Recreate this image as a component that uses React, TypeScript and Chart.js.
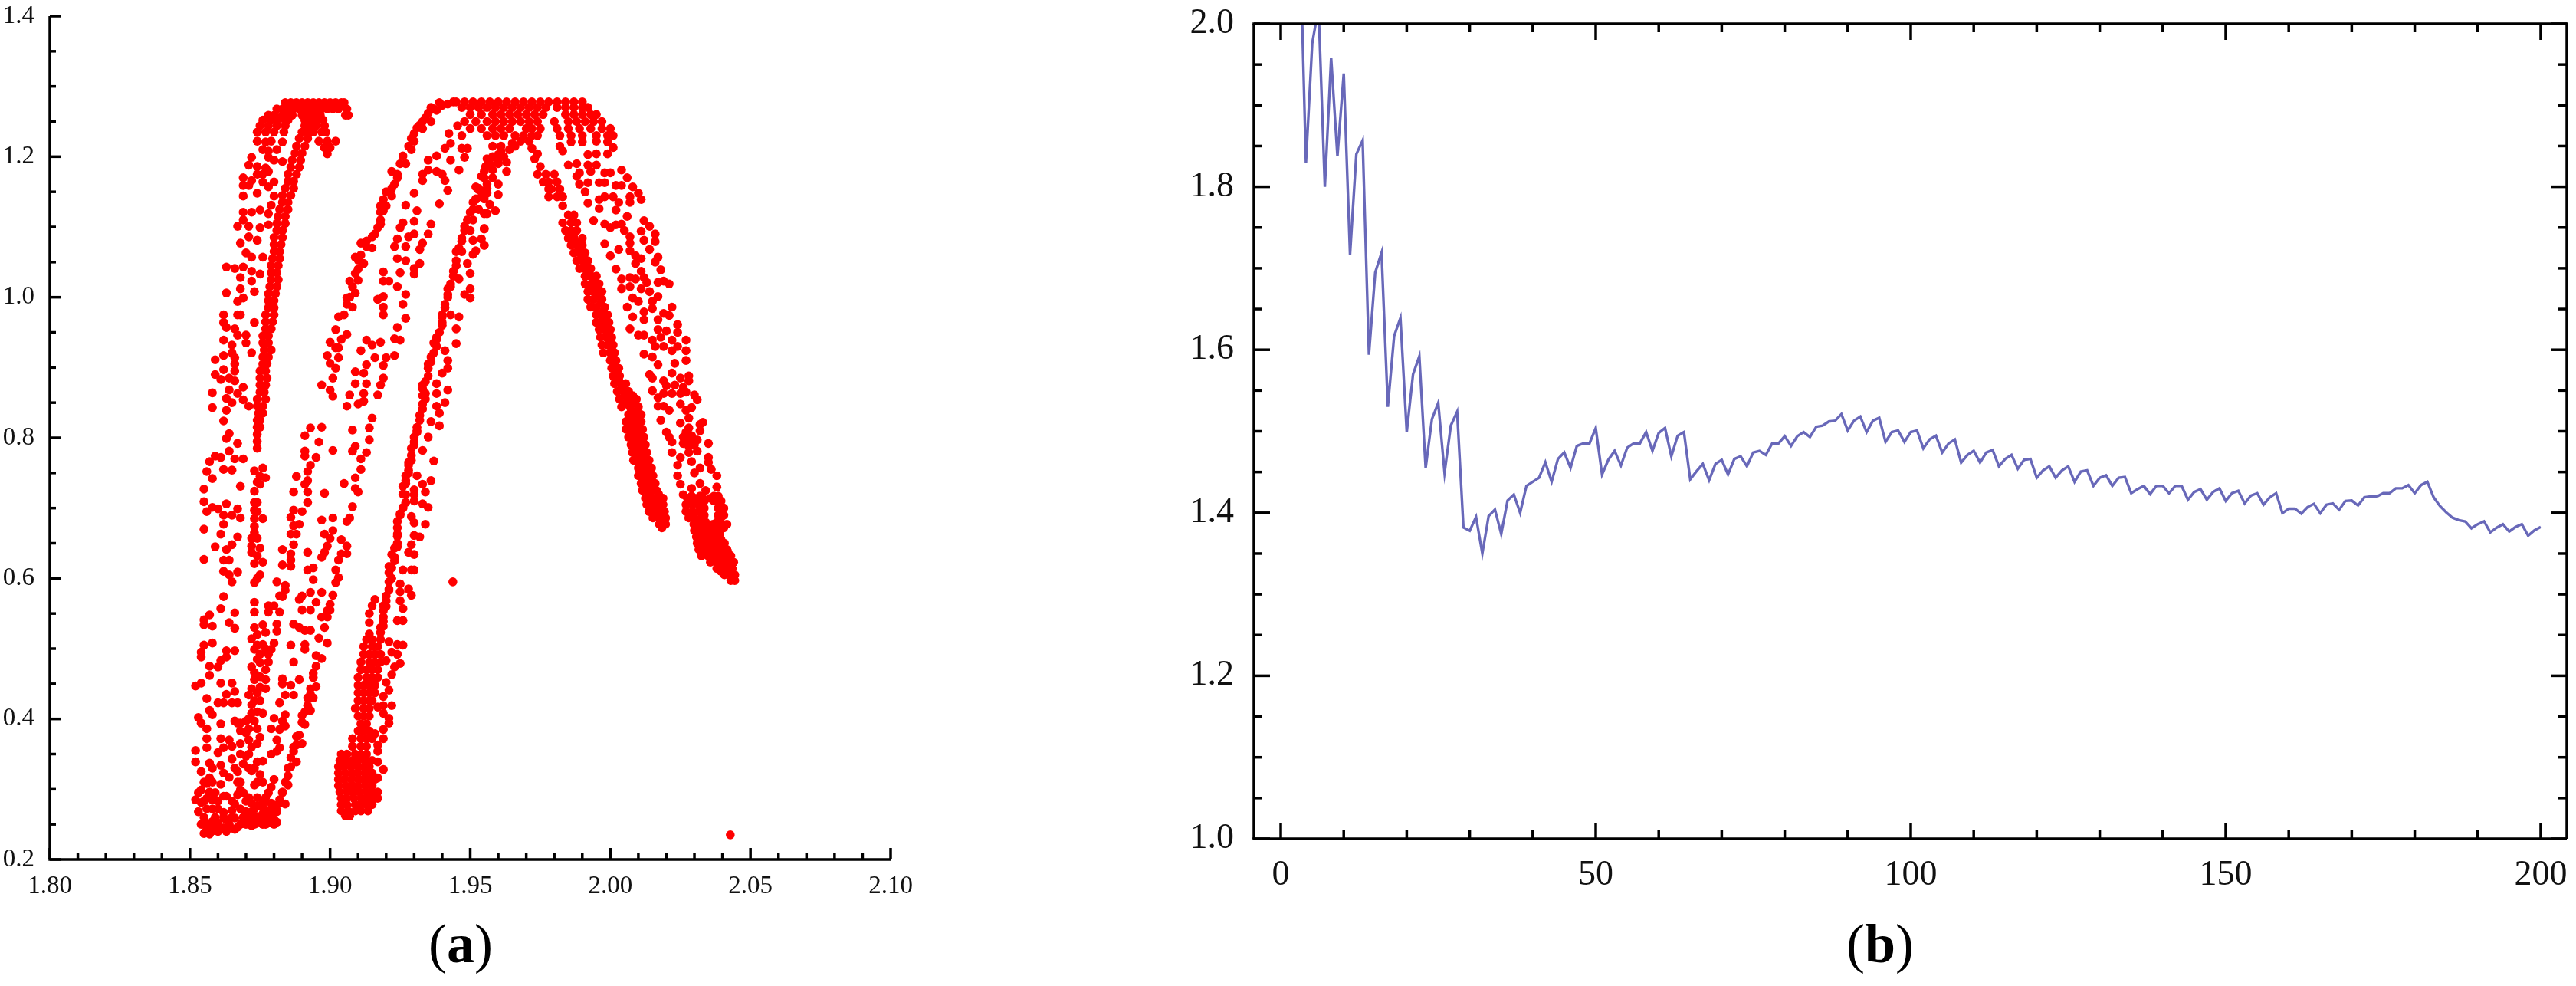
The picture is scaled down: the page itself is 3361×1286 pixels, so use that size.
import React, { useEffect, useRef } from "react";
import { Chart, registerables } from "chart.js";

Chart.register(...registerables);

const SERIF = '"Liberation Serif", serif';

// ---------- Panel (a): scatter values, as [x, y] ----------
const leftOuterScatter = [
[1.874,1.222],[1.877,1.221],[1.879,1.222],[1.883,1.221],[1.876,1.21],[1.878,1.208],[1.881,1.21],[1.878,1.199],[1.88,1.195],[1.883,1.193],[1.872,1.199],[1.871,1.188],[1.874,1.186],[1.877,1.184],
[1.869,1.17],[1.869,1.159],[1.869,1.144],[1.872,1.166],[1.874,1.175],[1.876,1.175],[1.878,1.179],[1.88,1.164],[1.878,1.157],[1.874,1.148],[1.871,1.159],[1.876,1.164],
[1.869,1.121],[1.872,1.121],[1.875,1.124],[1.878,1.119],[1.879,1.131],[1.88,1.144],[1.867,1.101],[1.869,1.11],[1.871,1.101],[1.875,1.099],[1.878,1.103],[1.871,1.086],[1.874,1.081],[1.868,1.077],
[1.87,1.063],[1.872,1.057],[1.876,1.057],[1.863,1.043],[1.866,1.041],[1.869,1.043],[1.872,1.037],[1.875,1.033],[1.868,1.028],[1.872,1.023],[1.868,1.012],[1.863,1.006],[1.873,1.008],[1.869,.999],[1.867,.994],[1.867,.975],[1.868,.975],[1.862,.975],[1.862,.964],[1.863,.957],[1.873,.964],[1.866,.955],[1.867,.946],[1.87,.946],[1.862,.939],[1.87,.935],[1.865,.932],[1.865,.921],[1.862,.917],[1.859,.911],[1.872,.921],[1.866,.914],[1.866,.905],[1.862,.897],[1.859,.89],[1.866,.895],[1.861,.883],[1.864,.885],[1.866,.881],[1.869,.872],[1.864,.868],[1.867,.863],[1.858,.864],[1.863,.856],[1.865,.85],[1.869,.854],[1.871,.845],[1.858,.843],[1.863,.839],[1.862,.824],[1.864,.806],[1.863,.799],[1.867,.792],[1.864,.781],[1.859,.774],[1.861,.772],[1.866,.77],[1.869,.77],[1.857,.766],[1.856,.752],[1.862,.755],[1.865,.754],[1.858,.742],[1.868,.731],[1.855,.727],
[1.873,.753],[1.876,.757],[1.875,.745],[1.877,.743],[1.874,.737],[1.873,.724],[1.875,.734],
];

const leftStemRows = [
[1.226,1.889,1.892],[1.215,1.888,1.891],[1.205,1.8875,1.89],[1.195,1.8865,1.8895],[1.185,1.886,1.889],[1.175,1.885,1.888],[1.165,1.885,1.887],[1.155,1.884,1.887],[1.145,1.883,1.886],[1.135,1.883,1.885],[1.125,1.882,1.885],[1.115,1.8815,1.884],[1.105,1.881,1.884],[1.095,1.881,1.883],[1.085,1.88,1.883],[1.075,1.88,1.8825],[1.065,1.88,1.882],[1.055,1.8795,1.882],[1.045,1.879,1.8815],[1.035,1.879,1.881],[1.025,1.879,1.8815],[1.015,1.8785,1.881],[1.005,1.878,1.8805],[.995,1.878,1.88],[.985,1.878,1.88],[.975,1.877,1.88],[.965,1.877,1.8795],[.955,1.877,1.879],[.945,1.876,1.878],[.935,1.876,1.878],[.925,1.8765,1.879],[.915,1.876,1.878],[.905,1.876,1.8775],[.895,1.875,1.877],[.885,1.875,1.8775],[.875,1.875,1.877],[.865,1.875,1.8765],[.855,1.874,1.877],[.845,1.874,1.876],[.835,1.8745,1.876],[.825,1.874,1.875],[.815,1.874,1.875],[.805,1.874],[.795,1.874],[.785,1.874],
];

const leftCapRows = [
[1.277,1.884,1.886,1.888,1.89,1.892,1.894,1.896,1.898,1.9,1.902,1.904,1.905],
[1.268,1.881,1.883,1.885,1.887,1.889,1.891,1.893,1.895,1.897,1.899,1.901,1.903,1.906],
[1.259,1.878,1.88,1.883,1.885,1.8865,1.89,1.892,1.894,1.8965,1.9065,1.9055],
[1.252,1.876,1.879,1.881,1.884,1.885,1.891,1.893,1.895,1.8975],
[1.244,1.875,1.878,1.881,1.884,1.891,1.893,1.895,1.898],
[1.235,1.874,1.877,1.88,1.8835,1.89,1.892,1.894,1.897,1.8985],
[1.222,1.896,1.899,1.902],[1.213,1.898,1.9],[1.204,1.899],
];

const middleArc = [
[1.928,1.215],[1.93,1.222],[1.926,1.201],[1.925,1.19],[1.922,1.179],[1.924,1.175],[1.923,1.161],[1.92,1.15],[1.922,1.144],[1.919,1.139],[1.918,1.13],[1.918,1.121],[1.919,1.123],[1.917,1.099],[1.918,1.104],[1.915,1.086],[1.911,1.077],[1.915,1.07],[1.913,1.072],[1.909,1.057],[1.912,1.048],[1.91,1.053],[1.909,1.034],[1.91,1.024],[1.907,1.023],[1.909,1.006],[1.906,.999],[1.908,.986],[1.906,.99],[1.903,.972],[1.902,.954],[1.906,.947],[1.9,.936],[1.903,.928],[1.902,.928],[1.899,.917],[1.903,.914],[1.9,.906],[1.902,.899],[1.901,.885],[1.897,.875],[1.9,.868],[1.901,.859],
[1.944,1.278],[1.94,1.273],[1.937,1.268],[1.934,1.255],[1.931,1.241],[1.929,1.226],[1.942,1.275],[1.938,1.266],[1.935,1.262],[1.933,1.25],[1.932,1.245],[1.93,1.233],[1.936,1.27],[1.939,1.277],
];

const middleArcFillRows = [
[1.25,1.936],[1.24,1.933],[1.21,1.929],[1.19,1.927],[1.17,1.924],[1.155,1.922],[1.13,1.92],[1.11,1.918],[1.09,1.916],[1.08,1.913],[1.06,1.911],[1.04,1.91],[1.015,1.908],[1.0,1.907],[.975,1.905],[.94,1.904],
[.36,1.887],[.345,1.886],[.33,1.885],[.31,1.884],[.295,1.883],[.28,1.882],[.27,1.881],[.375,1.888],[.395,1.89],[.41,1.891],[.435,1.893],[.465,1.894],[.49,1.895],[.515,1.896],[.545,1.897],
];

const innerScatterUpper = [
[1.941,1.212],[1.947,1.212],[1.949,1.212],[1.938,1.201],[1.943,1.195],[1.948,1.199],[1.935,1.195],[1.946,1.181],[1.933,1.175],[1.938,1.179],[1.935,1.181],[1.94,1.175],[1.941,1.166],[1.933,1.166],[1.942,1.152],[1.93,1.148],[1.927,1.131],[1.939,1.133],[1.931,1.123],[1.926,1.106],[1.925,1.099],[1.93,1.108],[1.936,1.104],[1.928,1.086],[1.93,1.09],[1.935,1.09],[1.924,1.083],[1.923,1.072],[1.927,1.072],[1.933,1.077],[1.932,1.068],[1.924,1.055],[1.927,1.052],[1.925,1.035],[1.932,1.048],[1.93,1.033],[1.93,1.041],[1.919,1.036],[1.919,1.023],[1.921,1.023],[1.924,1.015],[1.917,.997],[1.919,1.001],[1.919,.986],[1.927,1.004],[1.926,.99],[1.919,.975],[1.927,.97],[1.924,.957],[1.923,.941],[1.925,.939],[1.913,.939],[1.918,.936],[1.915,.932],[1.911,.924],[1.916,.914],[1.92,.914],[1.923,.917],[1.913,.904],[1.919,.903],[1.919,.885],[1.918,.875],[1.909,.894],[1.912,.892],[1.909,.877],[1.913,.877],[1.912,.863],[1.917,.861],[1.907,.861],[1.91,.848],[1.906,.845],[1.912,.852],[1.915,.828],[1.914,.814],[1.908,.811],[1.914,.797],[1.909,.788],[1.908,.781],[1.913,.779],[1.911,.77],[1.911,.755],[1.909,.743],[1.905,.735],[1.909,.728],[1.91,.723],
[1.893,.814],[1.897,.815],[1.891,.803],[1.896,.794],[1.891,.781],[1.901,.782],[1.891,.774],[1.895,.772],[1.893,.761],[1.892,.752],[1.888,.745],[1.892,.739],[1.891,.734],[1.887,.723],[1.892,.723],[1.898,.721],
[1.9424,1.233],[1.9455,1.244],[1.943,1.219],
];

const rightArcUpper = [
[1.955,1.179],[1.952,1.157],[1.954,1.143],[1.956,1.148],[1.95,1.121],[1.955,1.119],[1.951,1.135],[1.948,1.101],[1.947,1.084],[1.946,1.07],[1.955,1.097],[1.951,1.081],[1.955,1.074],[1.951,1.061],[1.945,1.052],[1.949,1.048],[1.944,1.037],[1.95,1.034],[1.946,1.026],[1.943,1.019],[1.942,1.004],[1.95,1.012],[1.948,1.004],[1.95,.999],[1.941,.99],[1.94,.975],[1.943,.975],[1.946,.972],[1.94,.964],[1.945,.955],[1.939,.95],[1.937,.935],[1.945,.934],[1.937,.921],[1.941,.924],[1.936,.908],[1.942,.91],[1.942,.899],[1.935,.888],[1.94,.892],[1.933,.875],[1.938,.877],[1.942,.868],[1.934,.863],[1.933,.848],[1.938,.863],[1.941,.85],[1.938,.845],[1.939,.835],[1.932,.832],[1.931,.815],[1.936,.823],[1.939,.817],[1.93,.801],[1.935,.801],[1.929,.785],[1.933,.782],[1.929,.768],[1.937,.767],[1.928,.754],[1.927,.739],[1.931,.746],[1.936,.739],[1.926,.731],[1.93,.726],[1.933,.734],[1.927,.719],[1.934,.723],[1.93,.719],
[1.942,1.012],[1.94,.972],[1.938,.943],[1.935,.899],[1.934,.855],[1.933,.841],[1.931,.808],[1.93,.794],[1.929,.775],[1.928,.761],[1.927,.746],
[1.971,1.222],[1.968,1.222],[1.965,1.219],[1.964,1.21],[1.961,1.208],[1.958,1.215],[1.956,1.197],[1.96,1.203],[1.963,1.192],[1.958,1.181],[1.963,1.179],[1.954,1.172],[1.956,1.161],[1.96,1.161],[1.96,1.146],[1.953,1.153],[1.955,1.148],[1.952,1.139],[1.957,1.132],[1.956,1.119],[1.959,1.123],[1.955,1.098],[1.954,1.083],[1.955,1.074],[1.952,1.066],[1.974,1.204],[1.9555,1.186],[1.96,1.192],
];

const rightArcFillRows = [
[1.215,1.961,1.966],[1.2,1.958,1.962],[1.19,1.957,1.96],[1.17,1.955,1.958],[1.155,1.953,1.956],[1.14,1.952,1.955],[1.125,1.951,1.953],[1.11,1.949,1.951],[1.095,1.948,1.95],[1.08,1.947],[1.065,1.945,1.947],[1.045,1.945],[1.03,1.944],[1.015,1.943],[1.0,1.942],[.985,1.941],[.96,1.94],[.94,1.938],[.93,1.938],[.915,1.936],[.905,1.935],[.88,1.934],[.87,1.933],[.86,1.933],[.825,1.932],[.81,1.931],[.79,1.93],[.765,1.928],[.75,1.928],[.735,1.927],[.72,1.926],
[.7,1.926],[.69,1.925],[.66,1.924],[.65,1.924],[.63,1.923],[.615,1.922],[.595,1.921],[.585,1.921],[.56,1.92],[.545,1.919],[.53,1.918],
];

const lowerLeftScatter = [
[1.855,.709],[1.856,.695],[1.858,.701],[1.86,.699],[1.863,.706],[1.862,.69],[1.862,.677],[1.865,.69],[1.867,.699],[1.868,.686],[1.855,.67],[1.861,.663],[1.867,.659],[1.865,.648],[1.863,.641],[1.859,.645],[1.855,.627],[1.862,.626],[1.864,.626],[1.862,.61],[1.867,.609],[1.864,.605],[1.865,.595],
[1.873,.708],[1.874,.708],[1.873,.697],[1.874,.695],[1.873,.685],[1.876,.685],[1.873,.674],[1.873,.665],[1.872,.657],[1.874,.657],[1.872,.646],[1.875,.643],[1.872,.637],[1.874,.632],[1.873,.621],[1.876,.623],[1.875,.605],[1.873,.594],[1.874,.6],
[1.881,.595],[1.884,.59],[1.884,.583],[1.883,.574],[1.882,.575],[1.887,.697],[1.886,.687],[1.89,.695],[1.892,.708],[1.887,.675],[1.889,.677],[1.886,.663],[1.888,.663],[1.887,.648],[1.883,.641],[1.886,.635],[1.886,.626],[1.883,.619],[1.886,.617],
[1.897,.683],[1.901,.686],[1.908,.702],[1.907,.686],[1.906,.681],[1.901,.668],[1.898,.663],[1.9,.657],[1.904,.655],[1.906,.646],[1.899,.646],[1.892,.637],[1.898,.637],[1.904,.635],[1.906,.635],[1.897,.63],[1.903,.626],[1.894,.615],[1.892,.612],[1.902,.612],[1.903,.601],[1.902,.594],[1.894,.598],
[1.897,.58],[1.893,.58],[1.901,.576],[1.89,.575],[1.889,.57],[1.895,.566],[1.9,.563],[1.89,.555],[1.893,.555],[1.899,.554],[1.9,.555],[1.899,.545],[1.898,.53],[1.899,.508],
[1.862,.574],[1.861,.557],[1.857,.548],[1.855,.541],[1.855,.534],[1.858,.532],[1.866,.551],[1.864,.537],[1.866,.529],
[1.873,.566],[1.873,.552],[1.878,.561],[1.88,.561],[1.882,.552],[1.878,.552],[1.881,.535],[1.873,.53],[1.876,.534],[1.877,.523],[1.881,.525],[1.887,.535],[1.889,.53],[1.891,.526],[1.893,.526],
[1.872,.514],[1.874,.505],[1.876,.506],[1.88,.508],[1.873,.499],[1.875,.492],[1.878,.492],[1.879,.499],[1.874,.485],[1.878,.481],[1.872,.474],[1.873,.466],[1.877,.47],[1.873,.456],[1.877,.456],[1.877,.443],[1.872,.443],[1.874,.437],[1.871,.434],[1.873,.426],[1.875,.426],
[1.858,.508],[1.855,.505],[1.854,.495],[1.854,.488],[1.863,.497],[1.866,.497],[1.863,.488],[1.861,.483],[1.857,.475],[1.86,.474],[1.857,.462],[1.852,.447],[1.854,.451],[1.861,.451],[1.865,.451],[1.866,.439],[1.863,.435],[1.856,.429],
[1.886,.505],[1.891,.506],[1.891,.499],[1.897,.486],[1.887,.481],[1.895,.475],[1.883,.457],[1.889,.456],[1.883,.45],[1.886,.448],[1.894,.459],[1.895,.446],[1.893,.443],[1.887,.434],[1.884,.434],[1.882,.423],[1.892,.43],[1.894,.43],[1.892,.419],[1.893,.412],[1.89,.405],[1.884,.406],[1.88,.401],[1.883,.397],[1.884,.39],[1.891,.392],[1.879,.386],[1.882,.385],
[1.86,.423],[1.862,.423],[1.865,.423],[1.867,.423],[1.857,.412],[1.858,.406],[1.853,.402],[1.854,.394],[1.861,.393],[1.856,.386],[1.866,.397],[1.867,.394],[1.868,.394],[1.87,.397],[1.872,.408],[1.874,.41],[1.876,.408],[1.873,.397],[1.871,.386],[1.868,.383],[1.874,.386],
[1.856,.372],[1.852,.355],[1.856,.359],[1.861,.372],[1.864,.37],[1.865,.361],[1.862,.359],[1.86,.352],[1.868,.365],[1.871,.37],[1.875,.374],[1.874,.365],[1.881,.37],[1.882,.359],[1.881,.354],[1.879,.35],[1.889,.377],[1.89,.365],[1.887,.354],[1.888,.363],
[1.852,.339],[1.857,.337],[1.861,.334],[1.865,.343],[1.868,.35],[1.87,.347],[1.869,.336],[1.874,.339],[1.876,.34],[1.888,.339],[1.886,.332],[1.885,.319],
[1.854,.325],[1.857,.316],[1.856,.308],[1.861,.307],[1.862,.323],[1.864,.317],[1.867,.325],[1.868,.31],[1.872,.326],[1.875,.321],[1.874,.31],[1.88,.314],[1.879,.303],[1.885,.306],[1.883,.296],[1.854,.299],[1.857,.296],
[1.852,.285],[1.854,.281],[1.856,.287],[1.858,.285],[1.862,.29],[1.863,.29],[1.867,.292],[1.868,.299],[1.873,.306],[1.871,.288],[1.874,.288],[1.877,.288],[1.882,.285],[1.88,.277],[1.884,.279],
[1.853,.268],[1.858,.272],[1.862,.267],[1.865,.27],[1.866,.279],[1.87,.268],[1.874,.276],[1.876,.274],[1.878,.267],[1.881,.268],
[1.854,.25],[1.858,.254],[1.86,.252],[1.863,.256],[1.866,.259],[1.87,.259],[1.874,.261],[1.877,.259],[1.88,.257],
[1.855,.237],[1.857,.236],[1.859,.241],[1.862,.245],[1.866,.243],[1.87,.25],[1.872,.248],[1.878,.252],[1.881,.253],[1.856,.243],[1.858,.248],[1.864,.248],[1.867,.246],
[1.872,.28],[1.876,.28],[1.879,.28],[1.872,.268],[1.876,.265],[1.874,.253],[1.872,.258],[1.876,.25],[1.879,.262],
];

const bottomLeftFillRows = [
[.25,1.856,1.86,1.864,1.868,1.873,1.877,1.88],[.26,1.855,1.859,1.862,1.865,1.869,1.875,1.878],[.24,1.856,1.86,1.863],[.272,1.856,1.86,1.868,1.873,1.879],[.283,1.855,1.86,1.865,1.87,1.876],[.295,1.853,1.859,1.869,1.878],[.31,1.855,1.858,1.867,1.876],[.33,1.858,1.866,1.873,1.871],
[.35,1.871],[.36,1.872],[.38,1.87],[.4,1.871],[.42,1.872],[.445,1.875],[.46,1.875],[.48,1.875],[.5,1.877],[.52,1.874],
];

const rightArcLower = [
[1.927,.708],[1.925,.692],[1.924,.681],[1.924,.663],[1.924,.645],[1.923,.643],[1.923,.625],[1.921,.617],[1.921,.608],[1.922,.6],[1.921,.583],[1.92,.568],[1.919,.554],[1.919,.539],[1.918,.523],
[1.916,.57],[1.915,.561],[1.914,.55],[1.914,.537],[1.914,.521],[1.926,.701],[1.924,.672],[1.922,.634],[1.92,.575],[1.919,.561],[1.919,.532],
[1.93,.71],[1.933,.706],[1.935,.701],[1.929,.688],[1.93,.679],[1.934,.677],[1.93,.661],[1.932,.659],[1.929,.648],[1.928,.637],[1.93,.634],[1.926,.612],[1.929,.612],[1.93,.612],[1.925,.592],[1.925,.581],[1.928,.585],[1.929,.576],[1.925,.568],[1.926,.557],[1.924,.54],[1.926,.54],
[1.921,.51],[1.924,.506],[1.926,.505],[1.922,.495],[1.924,.492],[1.92,.483],[1.925,.479],[1.923,.474],[1.922,.463],[1.92,.452],[1.921,.441],[1.919,.432],[1.917,.417],[1.919,.419],[1.922,.419],[1.919,.408],[1.921,.401],[1.921,.394],[1.919,.385],[1.916,.379],[1.919,.372],[1.917,.363],[1.917,.354],[1.917,.339],[1.919,.328],[1.917,.316],
];

const lowerBlobRows = [
[.513,1.913,1.915,1.918],[.503,1.912,1.915,1.917],[.492,1.912,1.914,1.916,1.918],[.481,1.911,1.914,1.916,1.918],[.47,1.911,1.913,1.915,1.917],[.459,1.91,1.913,1.915,1.917],[.448,1.91,1.912,1.914,1.916],[.437,1.91,1.912,1.914,1.916],[.426,1.91,1.912,1.914,1.915],[.415,1.909,1.912,1.914],[.404,1.91,1.912,1.914],[.393,1.911,1.913],[.383,1.91,1.912,1.914],[.372,1.908,1.911,1.913,1.915],[.361,1.908,1.911,1.913],
[.35,1.904,1.906,1.909,1.911,1.913],[.341,1.9035,1.906,1.908,1.91,1.9125,1.915],[.332,1.903,1.905,1.9075,1.91,1.912,1.914],[.323,1.903,1.9055,1.908,1.91,1.9125,1.915],[.314,1.903,1.905,1.9075,1.91,1.912,1.914,1.916],[.305,1.903,1.9055,1.908,1.91,1.9125,1.915],[.296,1.9035,1.906,1.908,1.9105,1.913,1.915,1.917],[.287,1.904,1.906,1.9085,1.911,1.913,1.915,1.917],[.278,1.904,1.906,1.909,1.911,1.913,1.915],[.269,1.904,1.9065,1.909,1.911,1.9135],[.262,1.9055,1.907],
];

const descendingBandRows = [
[1.212,1.972],[1.197,1.973],[1.186,1.975],[1.175,1.974,1.977,1.98],[1.164,1.976,1.978,1.981],[1.154,1.978,1.979,1.982],[1.143,1.978,1.981,1.983],[1.13,1.983],[1.117,1.985,1.987],[1.106,1.983,1.986,1.988],[1.095,1.984,1.986,1.988],[1.084,1.985,1.987,1.99],[1.074,1.986,1.988,1.99],[1.063,1.987,1.989,1.991],[1.052,1.988,1.99,1.992],[1.041,1.989,1.991,1.993],[1.03,1.991,1.993,1.995],[1.019,1.991,1.993,1.996],[1.008,1.992,1.994,1.997],[.997,1.992,1.994,1.997],[.986,1.993,1.995,1.998],[.975,1.995,1.9965,1.999],[.964,1.995,1.997,1.9995],[.954,1.996,1.998,2.0],[.943,1.9965,1.9985,2.0005],[.932,1.997,1.999,2.001],[.921,1.9975,2.0,2.0015],[.91,2.0,2.002],[.899,2.0005,2.003],[.888,2.001,2.0033],[.877,2.0015,2.004,2.0055],[.866,2.0025,2.005,2.0065],[.855,2.0033,2.0065,2.0093],[.844,2.004,2.007,2.01],[.833,2.0065,2.0088,2.011],[.823,2.0056,2.0083,2.011],[.812,2.0056,2.0083,2.0115],[.801,2.0065,2.0093,2.012],[.79,2.0074,2.01,2.0125],[.779,2.0079,2.0106,2.013],[.768,2.0083,2.011,2.0138],[.757,2.01,2.012,2.0147],[.746,2.01,2.013,2.0152],[.735,2.011,2.0138,2.016],[.725,2.0115,2.0143,2.0165],[.714,2.0125,2.0156,2.0188],[.705,2.013,2.016,2.0188],[.695,2.0138,2.0165,2.0193],[.686,2.0152,2.0175,2.0197],[.677,2.0175,2.0197],[.672,2.0184],
];

const descendingFillRows = [
[1.09,1.987],[1.079,1.9875],[1.068,1.989],[1.057,1.9905],[1.046,1.9915],[1.035,1.9925],[1.024,1.9945],[1.013,1.995],[1.002,1.9955],[.991,1.9965],[.98,1.9975],[.969,1.998],[.959,1.9985],[.948,1.9995],[.937,2.0],[.926,2.0005],[.915,2.0008],[.905,2.0015],[.893,2.002],[.882,2.003],[.871,2.004],[.86,2.005,2.008],[.849,2.0055,2.0085],[.838,2.0075,2.0095],[.828,2.0075,2.0097],[.817,2.0072,2.0098],[.806,2.008,2.0107],[.795,2.0087,2.0112],[.784,2.0093,2.012],[.773,2.0097,2.0125],[.762,2.0102,2.013],[.751,2.011,2.0135],[.74,2.0115,2.0145],[.73,2.0125,2.015],[.72,2.014,2.0172],[.71,2.0145,2.0174],[.7,2.015,2.0178],[.69,2.016,2.0185],
];

const outerBandScatter = [
[1.982,1.215],[1.983,1.208],[1.986,1.221],[1.99,1.221],[1.995,1.222],[1.999,1.221],[2.001,1.213],[1.992,1.203],[1.995,1.204],[1.999,1.204],[1.985,1.188],[1.988,1.19],[1.992,1.188],[1.995,1.188],[1.988,1.172],[1.989,1.177],[1.993,1.179],[1.989,1.161],[1.991,1.15],[1.992,1.163],[1.996,1.163],[1.998,1.177],[2.0,1.177],[1.998,1.163],[2.002,1.159],[2.004,1.159],[2.004,1.181],[2.006,1.17],[2.008,1.157],[2.01,1.148],[2.011,1.139],[2.007,1.143],[1.992,1.134],[1.996,1.139],[1.996,1.126],[1.998,1.143],[2.001,1.143],[2.002,1.124],[2.003,1.135],[2.007,1.135],[2.006,1.115],
[2.012,1.109],[1.994,1.109],[1.998,1.104],[2.0,1.099],[2.002,1.103],[2.004,1.104],[2.005,1.095],[2.007,1.086],[2.014,1.101],[2.011,1.094],[2.016,1.09],[2.012,1.081],[2.016,1.079],[1.998,1.076],[2.0,1.059],[2.003,1.068],[2.007,1.077],[2.007,1.066],[2.009,1.059],[2.011,1.055],[2.014,1.068],[2.017,1.057],[2.016,1.05],[2.002,1.04],[2.018,1.039],[2.009,1.048],[2.011,1.037],[2.012,1.028],[2.013,1.021],[2.004,1.026],[2.007,1.028],[2.009,1.026],[2.004,1.012],[2.007,1.015],[2.011,1.012],[2.014,1.008],[2.017,1.021],[2.021,1.019],[2.019,1.023],[2.017,1.001],[2.008,.999],[2.01,.994],[2.015,.994],[2.006,.986],[2.012,.979],[2.015,.984],[2.022,.986],[2.008,.972],[2.012,.968],[2.019,.977],[2.021,.974],[2.017,.968],[2.024,.961],[2.007,.955],[2.01,.946],[2.012,.946],[2.017,.954],[2.02,.952],[2.024,.95],[2.027,.939],[2.015,.939],[2.018,.943],[2.022,.939],[2.016,.93],[2.012,.919],[2.015,.915],[2.019,.93],[2.024,.93],[2.027,.924],[2.022,.924],[2.027,.91],[2.017,.904],[2.023,.906],[2.014,.89],[2.015,.885],[2.028,.888],[2.025,.885],[2.022,.892],[2.019,.881],[2.028,.881],[2.02,.874],[2.023,.875],[2.026,.872],[2.015,.867],[2.019,.863],[2.017,.857],[2.022,.863],[2.025,.863],[2.027,.865],[2.03,.861],[2.031,.854],[2.017,.845],[2.019,.845],[2.021,.839],[2.025,.848],[2.027,.839],[2.029,.843],[2.018,.825],[2.028,.828],[2.025,.821],[2.033,.822],[2.032,.819],[2.032,.81],[2.02,.808],[2.027,.808],[2.029,.803],[2.022,.794],[2.031,.797],[2.035,.792],[2.026,.792],[2.028,.788],[2.031,.781],[2.022,.779],[2.035,.772],[2.035,.765],[2.024,.761],[2.029,.766],[2.032,.757],[2.036,.755],[2.024,.746],[2.03,.75],[2.038,.746],[2.025,.734],[2.032,.735],[2.029,.728],[2.034,.725],[2.038,.73],[2.026,.719],[2.029,.717],[2.032,.717],[2.037,.717],[2.0385,.717],
[2.021,.801],[2.028,.797],[2.028,.779],[2.026,.801],[2.029,.794],[2.03,.79],[2.028,.814],[2.025,.772],
];

const outerBlobRows = [
[.714,2.0275,2.03,2.033,2.0357,2.0385],[.705,2.027,2.0293,2.0316,2.039],[.695,2.027,2.0293,2.0316,2.0394],[.686,2.028,2.03,2.0325,2.0394],[.677,2.0298,2.032,2.0343,2.0366,2.0398,2.0416],[.668,2.03,2.0325,2.035,2.0385],[.659,2.0307,2.033,2.035,2.0375],[.65,2.031,2.0334,2.0357,2.038,2.0407],[.641,2.0316,2.0339,2.036,2.0385,2.0416],[.632,2.0325,2.0348,2.037,2.0394,2.043],[.623,2.0357,2.038,2.0416,2.044],[.614,2.038,2.041,2.0435],[.605,2.0407,2.043,2.0444],[.597,2.043,2.0444],
[.71,2.0285,2.031,2.0335,2.037,2.0395],[.7,2.0335,2.0385,2.0405],[.69,2.0335,2.0385,2.0405],[.68,2.031,2.034,2.038],[.672,2.034,2.0375,2.0405],[.663,2.032,2.034,2.0365,2.039],[.655,2.032,2.0345,2.037,2.0395],[.645,2.033,2.035,2.0375,2.04],[.637,2.033,2.0355,2.038,2.0405,2.042],[.627,2.036,2.0385,2.041,2.0425],[.618,2.0395,2.042],[.61,2.0395,2.042],
];

const peakRows = [
[1.278,1.945,1.948,1.951,1.954,1.957,1.96,1.963,1.966,1.969,1.972,1.975,1.978,1.981,1.984,1.987,1.99],
[1.27,1.947,1.95,1.953,1.956,1.959,1.962,1.965,1.968,1.971,1.974,1.977,1.981,1.984,1.987,1.99,1.992],
[1.26,1.95,1.954,1.958,1.961,1.964,1.967,1.97,1.973,1.976,1.984,1.987,1.99,1.993,1.995],
[1.25,1.948,1.952,1.956,1.959,1.962,1.965,1.968,1.971,1.974,1.98,1.985,1.988,1.991,1.994,1.997],
[1.24,1.95,1.954,1.958,1.961,1.964,1.97,1.972,1.975,1.981,1.985,1.989,1.993,1.997,2.0],
[1.23,1.947,1.956,1.959,1.962,1.966,1.969,1.972,1.974,1.982,1.986,1.99,1.995,1.999,2.001],
];

const outliers = [[1.9438,.595],[2.0428,.235]];

// ---------- Panel (b): one value per step n = 1..200 ----------
const lineValues = [
2.6,2.3,2.12,1.829,1.976,2.02,1.8,1.958,1.8375,1.939,1.717,1.84,1.857,1.594,1.695,1.719,1.53,1.617,1.639,1.499,1.57,1.592,1.455,1.515,1.535,1.449,1.507,1.524,1.382,1.378,1.395,1.35,1.396,1.404,1.374,1.415,1.4224,1.4,1.433,1.438,
1.443,1.462,1.438,1.466,1.474,1.455,1.482,1.485,1.485,1.504,1.447,1.465,1.476,1.458,1.48,1.485,1.485,1.499,1.476,1.498,1.504,1.4694,1.4945,1.499,1.441,1.451,1.46,1.44,1.46,1.465,1.447,1.466,1.4694,1.457,1.474,1.476,1.471,1.485,1.485,1.494,
1.482,1.494,1.499,1.493,1.5055,1.507,1.512,1.513,1.521,1.501,1.513,1.518,1.499,1.513,1.5165,1.487,1.499,1.501,1.487,1.499,1.501,1.479,1.49,1.4945,1.474,1.485,1.49,1.4616,1.471,1.476,1.4616,1.474,1.477,1.457,1.466,1.471,1.454,1.465,1.466,1.443,
1.452,1.457,1.443,1.452,1.457,1.438,1.4506,1.452,1.433,1.443,1.446,1.433,1.443,1.444,1.424,1.429,1.433,1.423,1.433,1.433,1.424,1.433,1.433,1.416,1.4256,1.429,1.416,1.4256,1.43,1.4146,1.424,1.427,1.4115,1.421,1.424,1.41,1.419,1.424,1.3995,1.405,
1.405,1.399,1.407,1.411,1.3995,1.41,1.4115,1.4036,1.4146,1.415,1.409,1.419,1.42,1.42,1.424,1.424,1.43,1.43,1.434,1.424,1.434,1.438,1.419,1.4083,1.4005,1.394,1.391,1.3895,1.381,1.386,1.3895,1.376,1.3817,1.386,1.377,1.3826,1.386,1.372,1.3785,1.3826,
];

// ---------- Tick values ----------
const aXLabels = [1.8, 1.85, 1.9, 1.95, 2.0, 2.05, 2.1];
const aXMinor = [1.81,1.82,1.83,1.84,1.86,1.87,1.88,1.89,1.91,1.92,1.93,1.94,1.96,1.97,1.98,1.99,2.01,2.02,2.03,2.04,2.06,2.07,2.08,2.09];
const aYLabels = [0.2, 0.4, 0.6, 0.8, 1.0, 1.2, 1.4];
const aYMinor = [.25,.3,.35,.45,.5,.55,.65,.7,.75,.85,.9,.95,1.05,1.1,1.15,1.25,1.3,1.35];
const bXLabels = [0, 50, 100, 150, 200];
const bXMinor = [10,20,30,40,60,70,80,90,110,120,130,140,160,170,180,190];
const bYLabels = [1.0, 1.2, 1.4, 1.6, 1.8, 2.0];
const bYMinor = [1.05,1.1,1.15,1.25,1.3,1.35,1.45,1.5,1.55,1.65,1.7,1.75,1.85,1.9,1.95];

const toPoints = (pairs: number[][]) => pairs.map(([x, y]) => ({ x, y }));
const rowsToPoints = (rows: number[][]) =>
  rows.flatMap(([y, ...xs]) => xs.map((x) => ({ x, y })));

const scatterPoints = [
  ...toPoints(leftOuterScatter),
  ...rowsToPoints(leftStemRows),
  ...rowsToPoints(leftCapRows),
  ...toPoints(middleArc),
  ...rowsToPoints(middleArcFillRows),
  ...toPoints(innerScatterUpper),
  ...toPoints(rightArcUpper),
  ...rowsToPoints(rightArcFillRows),
  ...toPoints(lowerLeftScatter),
  ...rowsToPoints(bottomLeftFillRows),
  ...toPoints(rightArcLower),
  ...rowsToPoints(lowerBlobRows),
  ...rowsToPoints(descendingBandRows),
  ...rowsToPoints(descendingFillRows),
  ...toPoints(outerBandScatter),
  ...rowsToPoints(outerBlobRows),
  ...rowsToPoints(peakRows),
  ...toPoints(outliers),
];

type TickCfg = {
  xMajor: number[]; xMinor: number[]; yMajor: number[]; yMinor: number[];
  xLen: number[]; yLen: number[]; frame: boolean; width: number;
};

const tickPlugin = (cfg: TickCfg) => ({
  id: "inwardTicks",
  afterDraw(chart: any) {
    const { ctx, chartArea: a, scales } = chart;
    ctx.save();
    ctx.strokeStyle = "#000";
    ctx.lineWidth = cfg.width;
    const seg = (x1: number, y1: number, x2: number, y2: number) => {
      ctx.beginPath(); ctx.moveTo(x1, y1); ctx.lineTo(x2, y2); ctx.stroke();
    };
    const xTick = (v: number, len: number) => {
      const p = scales.x.getPixelForValue(v);
      seg(p, a.bottom, p, a.bottom - len);
      if (cfg.frame) seg(p, a.top, p, a.top + len);
    };
    const yTick = (v: number, len: number) => {
      const p = scales.y.getPixelForValue(v);
      seg(a.left, p, a.left + len, p);
      if (cfg.frame) seg(a.right, p, a.right - len, p);
    };
    cfg.xMajor.forEach((v) => xTick(v, cfg.xLen[0]));
    cfg.xMinor.forEach((v) => xTick(v, cfg.xLen[1]));
    cfg.yMajor.forEach((v) => yTick(v, cfg.yLen[0]));
    cfg.yMinor.forEach((v) => yTick(v, cfg.yLen[1]));
    seg(a.left, a.top, a.left, a.bottom);
    seg(a.left - cfg.width / 2, a.bottom, a.right, a.bottom);
    if (cfg.frame) {
      seg(a.left - cfg.width / 2, a.top, a.right + cfg.width / 2, a.top);
      seg(a.right, a.top, a.right, a.bottom);
    }
    ctx.restore();
  },
});

const axis = (
  min: number, max: number, labels: number[], digits: number,
  size: number, pad: number, fit: (s: any) => void,
) => ({
  type: "linear" as const,
  min, max,
  grid: { display: false },
  border: { display: false },
  afterFit: (s: any) => {
    fit(s);
    // keep the plot area exactly where the padding puts it
    s.paddingTop = 0; s.paddingBottom = 0; s.paddingLeft = 0; s.paddingRight = 0;
  },
  afterBuildTicks: (s: any) => { s.ticks = labels.map((value) => ({ value })); },
  ticks: {
    autoSkip: false, maxRotation: 0, minRotation: 0, padding: pad, color: "#111",
    font: { family: SERIF, size },
    callback: (v: any) => Number(v).toFixed(digits),
  },
});

export default function App() {
  const aRef = useRef<HTMLCanvasElement>(null);
  const bRef = useRef<HTMLCanvasElement>(null);

  useEffect(() => {
    const a = new Chart(aRef.current!, {
      type: "scatter",
      data: {
        datasets: [{
          data: scatterPoints, backgroundColor: "#ff0000", borderWidth: 0,
          pointRadius: 5.8, pointHoverRadius: 5.8,
        }],
      },
      options: {
        animation: false, responsive: false, devicePixelRatio: 1,
        layout: { padding: { top: 21, right: 38, left: 0, bottom: 0 } },
        plugins: { legend: { display: false }, tooltip: { enabled: false } },
        scales: {
          x: axis(1.8, 2.1, aXLabels, 2, 33, 8, (s) => { s.height = 69; }),
          y: axis(0.2, 1.4, aYLabels, 1, 33, 12, (s) => { s.width = 65; }),
        },
      },
      plugins: [tickPlugin({
        xMajor: aXLabels, xMinor: aXMinor, yMajor: aYLabels, yMinor: aYMinor,
        xLen: [15, 8], yLen: [15, 8], frame: false, width: 3.5,
      })],
    } as any);

    const b = new Chart(bRef.current!, {
      type: "line",
      data: {
        datasets: [{
          data: lineValues.map((y, i) => ({ x: i + 1, y })),
          borderColor: "rgba(62,62,165,0.78)", borderWidth: 3.4,
          pointRadius: 0, tension: 0, fill: false,
        }],
      },
      options: {
        animation: false, responsive: false, devicePixelRatio: 1,
        layout: { padding: { top: 31, right: 12, left: 0, bottom: 0 } },
        plugins: { legend: { display: false }, tooltip: { enabled: false } },
        scales: {
          x: axis(-4.26, 204.14, bXLabels, 0, 46, 12, (s) => { s.height = 96; }),
          y: axis(1, 2, bYLabels, 1, 46, 18, (s) => { s.width = 136; }),
        },
      },
      plugins: [tickPlugin({
        xMajor: bXLabels, xMinor: bXMinor, yMajor: bYLabels, yMinor: bYMinor,
        xLen: [21, 11], yLen: [21, 11], frame: true, width: 3.5,
      })],
    } as any);

    return () => { a.destroy(); b.destroy(); };
  }, []);

  const caption: React.CSSProperties = {
    position: "absolute", top: 1195, width: 400, textAlign: "center",
    fontFamily: SERIF, fontSize: 72, lineHeight: "72px", color: "#000",
  };

  return (
    <div style={{ position: "absolute", left: 0, top: 0, width: 3361, height: 1286, background: "#fff", overflow: "hidden" }}>
      <canvas ref={aRef} width={1200} height={1190} style={{ position: "absolute", left: 0, top: 0 }} />
      <canvas ref={bRef} width={1861} height={1190} style={{ position: "absolute", left: 1500, top: 0 }} />
      <div style={{ ...caption, left: 401 }}>(<b>a</b>)</div>
      <div style={{ ...caption, left: 2253 }}>(<b>b</b>)</div>
    </div>
  );
}
